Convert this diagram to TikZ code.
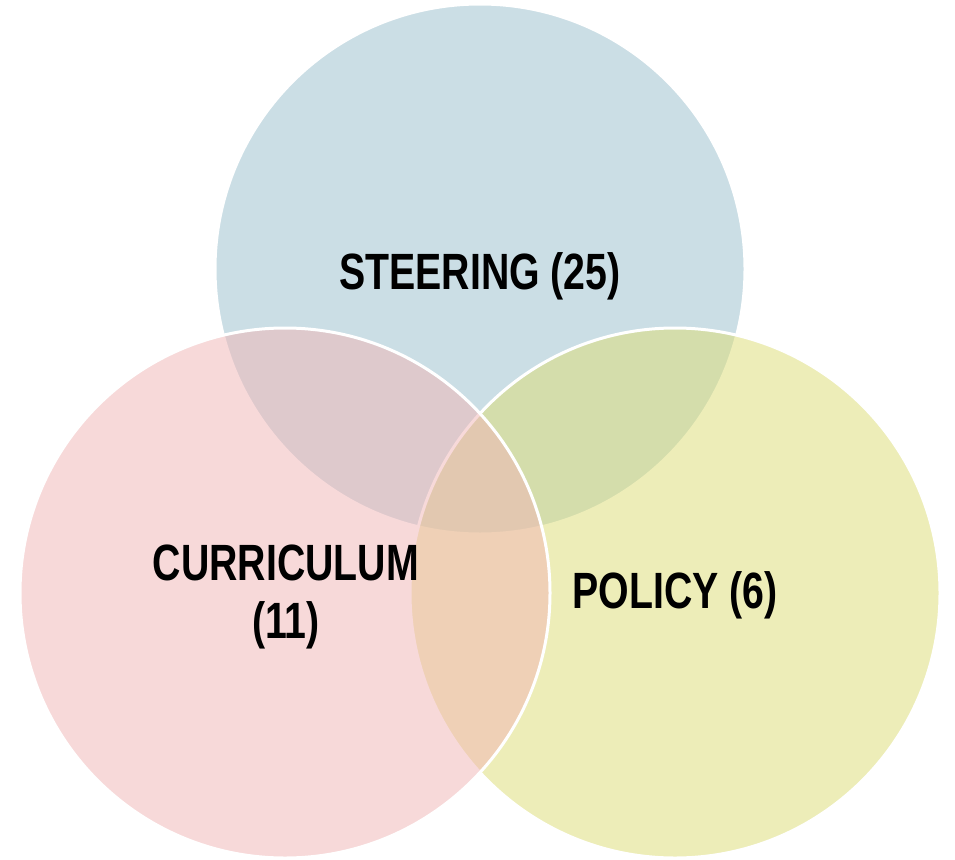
\documentclass[tikz,border=0pt]{standalone}
\usepackage{fontspec}
\newfontfamily\lblfont[FakeStretch=0.77]{Liberation Sans}
\definecolor{steerC}{HTML}{99BFCD}
\definecolor{currC}{HTML}{F1B5B5}
\definecolor{polC}{HTML}{DDDD73}
\begin{document}
\begin{tikzpicture}[x=1pt,y=-1pt,
  venn/.style={circle, minimum size=530pt, inner sep=0pt, outer sep=0pt,
    fill opacity=0.5, draw=white, line width=3pt},
  lbl/.style={inner sep=0pt, align=center, text=black,
    font=\lblfont\bfseries\fontsize{51}{58}\selectfont}]
\useasboundingbox[fill=white] (0,0) rectangle (955,859);
\node[venn, fill=steerC] (steer) at (480,269) {};
\node[venn, fill=polC] (pol) at (675,593) {};
\node[venn, fill=currC] (curr) at (285,593) {};
\node[lbl, anchor=base] (tsteer) at (480,289) {STEERING (25)};
\node[lbl] (tcurr) at (286,597) {CURRICULUM\\(11)};
\node[lbl, anchor=base] (tpol) at (675,608) {POLICY (6)};
\end{tikzpicture}
\end{document}
